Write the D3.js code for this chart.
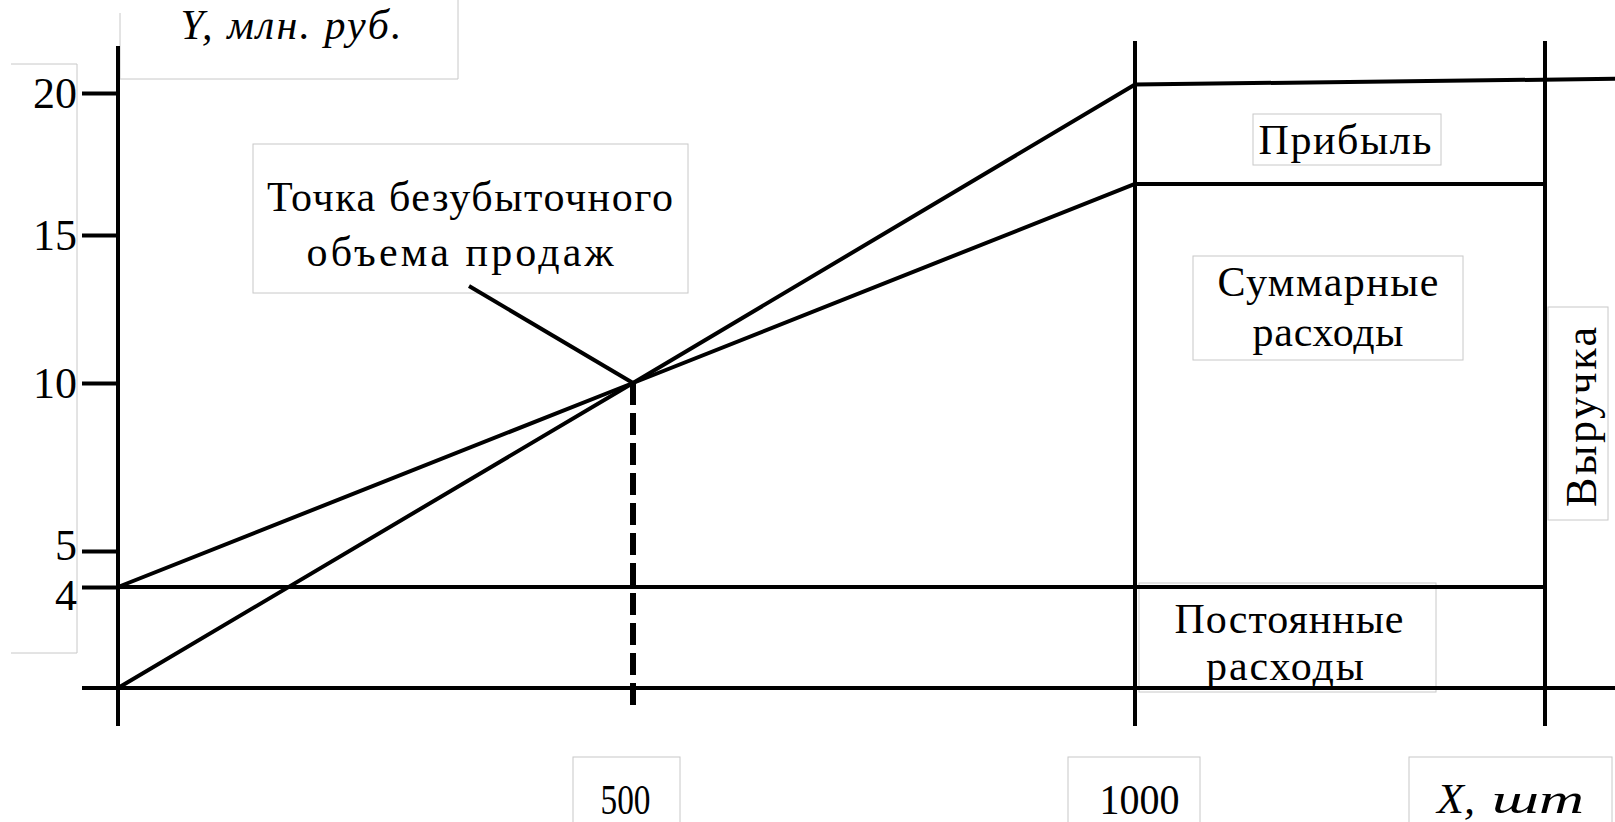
<!DOCTYPE html>
<html lang="ru">
<head>
<meta charset="utf-8">
<title>Точка безубыточности</title>
<script src="https://cdn.jsdelivr.net/npm/d3@7"></script>
<style>
  html, body { margin: 0; padding: 0; background: #fff; }
  svg { display: block; }
</style>
</head>
<body>
<svg id="chart"></svg>
<script>
// values
const volume = [0, 500, 1000, 1400];          // шт
const fixedCost = [4, 4, 4, 4];               // млн. руб.
const totalCost = [4, 10, 16.8, 16.8];
const revenueVolume = [0, 500, 1000, 1470];
const revenue = [0, 10, 20.3, 20.5];
const breakEven = [500, 10];
const yTicks = [4, 5, 10, 15, 20];
const xTicks = [500, 1000];

const width = 1615;
const height = 822;
const FONT = '"Liberation Serif", "Times New Roman", serif';
const BOX = '#c8c8c8';

const svg = d3.select('#chart')
  .attr('width', width)
  .attr('height', height);

// the drawing's axes are not evenly spaced, so piecewise scales
const x = d3.scaleLinear()
  .domain([0, 500, 1000, 1400])
  .range([118, 633, 1135, 1545]);

const y = d3.scaleLinear()
  .domain([0, 4, 5, 10, 15, 20])
  .range([688, 587, 551, 383, 235, 93]);

// thin text frames
const frames = svg.append('g')
  .attr('fill', 'none')
  .attr('stroke', BOX)
  .attr('stroke-width', 1);

frames.append('path').attr('d', 'M120,13V79H458V0');
frames.append('path').attr('d', 'M11,64H77V653H11');
[
  [253, 144, 435, 149],
  [1253, 114, 188, 51],
  [1193, 256, 270, 104],
  [1548, 307, 60, 213],
  [1139, 583, 297, 109],
  [573, 757, 107, 80],
  [1068, 757, 132, 80],
  [1409, 757, 203, 80]
].forEach(([bx, by, bw, bh]) => {
  frames.append('rect')
    .attr('x', bx).attr('y', by)
    .attr('width', bw).attr('height', bh);
});

// Y axis with ticks
const yAxis = svg.append('g')
  .attr('transform', `translate(${x(0)},0)`)
  .call(d3.axisLeft(y).tickValues(yTicks).tickSize(36).tickPadding(5));

yAxis.select('.domain').remove();
yAxis.selectAll('.tick line')
  .attr('stroke', '#000')
  .attr('stroke-width', 4);
yAxis.selectAll('.tick text')
  .attr('fill', '#000')
  .attr('dy', d => d === 5 ? '0.2em' : d === 4 ? '0.5em' : '0.32em')
  .style('font-family', FONT)
  .style('font-size', '44px');

svg.append('line')
  .attr('x1', x(0)).attr('x2', x(0))
  .attr('y1', 46).attr('y2', 726)
  .attr('stroke', '#000')
  .attr('stroke-width', 4);

// X axis (zero line) and labels
svg.append('line')
  .attr('x1', 82).attr('x2', width)
  .attr('y1', y(0)).attr('y2', y(0))
  .attr('stroke', '#000')
  .attr('stroke-width', 4);

const xAxis = svg.append('g')
  .attr('transform', `translate(0,${y(0)})`)
  .call(d3.axisBottom(x).tickValues(xTicks).tickSize(0).tickPadding(96).tickFormat(d3.format('d')));

xAxis.select('.domain').remove();
xAxis.selectAll('.tick text')
  .attr('fill', '#000')
  .attr('dx', d => d === 500 ? -8 : 4)
  .attr('textLength', d => d === 500 ? 50 : 80)
  .attr('lengthAdjust', 'spacingAndGlyphs')
  .style('font-family', FONT)
  .style('font-size', '42px');

// vertical guides at 1000 and the right edge
svg.selectAll('.guide')
  .data([1000, 1400])
  .enter().append('line')
  .attr('class', 'guide')
  .attr('x1', d => x(d)).attr('x2', d => x(d))
  .attr('y1', 41).attr('y2', 726)
  .attr('stroke', '#000')
  .attr('stroke-width', 4);

// dashed drop from the break-even point
svg.append('line')
  .attr('x1', x(breakEven[0])).attr('x2', x(breakEven[0]))
  .attr('y1', y(breakEven[1])).attr('y2', 712)
  .attr('stroke', '#000')
  .attr('stroke-width', 6)
  .attr('stroke-dasharray', '22,8');

// cost and revenue lines
const line = d3.line()
  .x(d => x(d[0]))
  .y(d => y(d[1]));

const series = [
  d3.zip(volume, fixedCost),
  d3.zip(volume, totalCost),
  d3.zip(revenueVolume, revenue)
];

svg.selectAll('.series')
  .data(series)
  .enter().append('path')
  .attr('class', 'series')
  .attr('d', line)
  .attr('fill', 'none')
  .attr('stroke', '#000')
  .attr('stroke-width', 4)
  .attr('stroke-linejoin', 'round');

// leader to the break-even point
svg.append('line')
  .attr('x1', 469).attr('y1', 286)
  .attr('x2', x(breakEven[0])).attr('y2', y(breakEven[1]))
  .attr('stroke', '#000')
  .attr('stroke-width', 4);

// captions (w = width of the text in the picture)
const captions = [
  { t: 'Y, млн. руб.', x: 291, y: 39, w: 221, italic: true },
  { t: 'Точка безубыточного', x: 470, y: 211, w: 406 },
  { t: 'объема продаж', x: 460, y: 266, w: 307 },
  { t: 'Прибыль', x: 1345, y: 154, w: 173 },
  { t: 'Суммарные', x: 1328, y: 296, w: 221 },
  { t: 'расходы', x: 1328, y: 346, w: 151 },
  { t: 'Постоянные', x: 1289, y: 633, w: 229 },
  { t: 'расходы', x: 1285, y: 680, w: 158 },
  { t: 'X,', x: 1456, y: 813, w: 38, italic: true },
  { t: 'шт', x: 1538, y: 813, w: 92, italic: true }
];

svg.selectAll('.caption')
  .data(captions)
  .enter().append('text')
  .attr('class', 'caption')
  .attr('x', d => d.x - d.w / 2)
  .attr('y', d => d.y)
  .attr('textLength', d => d.w)
  .attr('lengthAdjust', d => d.w < 100 ? 'spacingAndGlyphs' : 'spacing')
  .style('font-family', FONT)
  .style('font-size', '42px')
  .style('font-style', d => d.italic ? 'italic' : 'normal')
  .text(d => d.t);

svg.append('text')
  .attr('transform', 'translate(1596,417) rotate(-90)')
  .attr('x', -90)
  .attr('textLength', 180)
  .attr('lengthAdjust', 'spacing')
  .style('font-family', FONT)
  .style('font-size', '44px')
  .text('Выручка');
</script>
</body>
</html>
